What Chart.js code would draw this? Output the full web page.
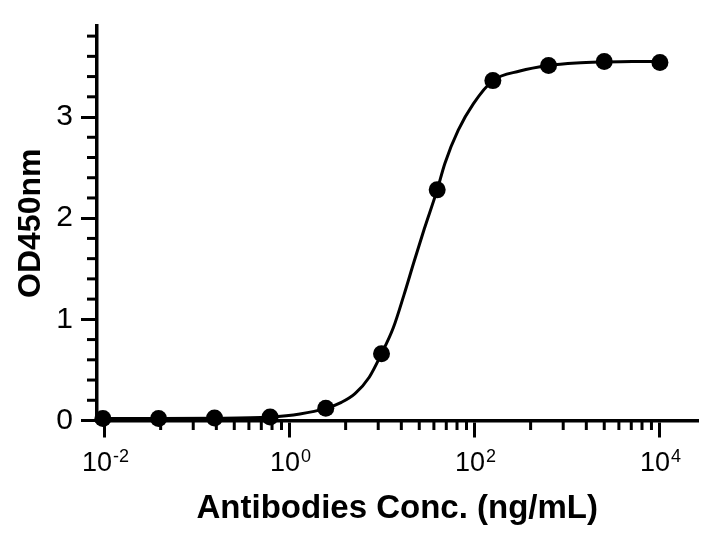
<!DOCTYPE html>
<html>
<head>
<meta charset="utf-8">
<script src="https://cdn.jsdelivr.net/npm/chart.js@4.4.1/dist/chart.umd.min.js"></script>
<style>
  html, body { margin: 0; padding: 0; background: #fff; }
  #wrap { width: 715px; height: 537px; position: relative; }
</style>
</head>
<body>
<div id="wrap"><canvas id="odChart"></canvas></div>
<script>
/* ---- data ---- */
const concValues = [0.0095, 0.038, 0.153, 0.61, 2.44, 9.77, 39.06, 156.25, 625, 2500, 10000];
const odValues   = [0.02, 0.02, 0.025, 0.035, 0.12, 0.66, 2.28, 3.36, 3.51, 3.55, 3.54];

// fitted curve
const fitX = [0.0095, 0.04, 0.15, 0.6, 1.28, 2.44, 3.6, 5.05, 7.2, 9.77, 13.1, 17.1, 21.9, 28.3, 39.06, 47.4, 66, 96, 156.25, 306, 625, 1250, 2500, 5000, 10000];
const fitY = [0.02, 0.02, 0.022, 0.035, 0.065, 0.12, 0.18, 0.266, 0.428, 0.66, 0.916, 1.242, 1.567, 1.893, 2.28, 2.544, 2.87, 3.13, 3.36, 3.455, 3.51, 3.535, 3.545, 3.55, 3.55];

const xMajorTicks = [0.01, 1, 100, 10000];
const xTickExponents = ['-2', '0', '2', '4'];
const xMinorTicks = [0.04, 0.09, 0.16, 0.25, 0.36, 0.49, 0.64, 0.81,
                     4, 9, 16, 25, 36, 49, 64, 81,
                     400, 900, 1600, 2500, 3600, 4900, 6400, 8100];
const yMajorTicks = [0, 1, 2, 3];
const yMinorTicks = [0.2, 0.4, 0.6, 0.8, 1.2, 1.4, 1.6, 1.8, 2.2, 2.4, 2.6, 2.8, 3.2, 3.4, 3.6, 3.8];

const FONT = "'Liberation Sans', Arial, sans-serif";
const INK = '#000';

// minor ticks + superscript x labels, placed through the scales
const axisExtras = {
  id: 'axisExtras',
  beforeDatasetsDraw(chart) {
    const { ctx, scales: { x, y } } = chart;
    ctx.save();
    ctx.strokeStyle = INK;
    ctx.lineWidth = 3;
    const minorLen = 9.5;
    xMinorTicks.forEach(v => {
      const px = x.getPixelForValue(v);
      ctx.beginPath();
      ctx.moveTo(px, x.top);
      ctx.lineTo(px, x.top + minorLen);
      ctx.stroke();
    });
    yMinorTicks.forEach(v => {
      const py = y.getPixelForValue(v);
      ctx.beginPath();
      ctx.moveTo(y.right, py);
      ctx.lineTo(y.right - minorLen, py);
      ctx.stroke();
    });
    ctx.restore();
  },
  afterDraw(chart) {
    const { ctx, scales: { x } } = chart;
    ctx.save();
    ctx.fillStyle = INK;
    ctx.textBaseline = 'alphabetic';
    ctx.textAlign = 'left';
    const baseFont = '27px ' + FONT;
    const supFont = '18px ' + FONT;
    xMajorTicks.forEach((v, i) => {
      const px = x.getPixelForValue(v);
      ctx.font = baseFont;
      const w1 = ctx.measureText('10').width;
      ctx.font = supFont;
      const w2 = ctx.measureText(xTickExponents[i]).width;
      const start = px - (w1 + w2) / 2;
      ctx.font = baseFont;
      ctx.fillText('10', start, x.top + 50);
      ctx.font = supFont;
      ctx.fillText(xTickExponents[i], start + w1 + 1, x.top + 41);
    });
    ctx.restore();
  }
};

new Chart(document.getElementById('odChart'), {
  type: 'scatter',
  data: {
    datasets: [
      {
        label: 'OD450nm',
        data: concValues.map((c, i) => ({ x: c, y: odValues[i] })),
        backgroundColor: INK,
        borderColor: INK,
        pointRadius: 8.5,
        pointBorderWidth: 0,
        showLine: false,
        clip: false
      },
      {
        label: 'Fit',
        data: fitX.map((c, i) => ({ x: c, y: fitY[i] })),
        showLine: true,
        borderColor: INK,
        borderWidth: 3,
        pointRadius: 0,
        cubicInterpolationMode: 'monotone',
        clip: false
      }
    ]
  },
  options: {
    responsive: true,
    maintainAspectRatio: false,
    animation: false,
    layout: { padding: { top: 20.5, right: 17, left: 0, bottom: 0 } },
    plugins: { legend: { display: false }, tooltip: { enabled: false } },
    scales: {
      x: {
        type: 'logarithmic',
        min: 0.0081,
        max: 25800,
        afterBuildTicks: s => { s.ticks = xMajorTicks.map(v => ({ value: v })); },
        afterFit: s => { s.height = 116.5; },
        border: { display: true, color: INK, width: 3.5 },
        grid: { drawOnChartArea: false, drawTicks: true, tickLength: 17, tickWidth: 3, tickColor: INK },
        ticks: { display: false },
        title: {
          display: true,
          text: 'Antibodies Conc. (ng/mL)',
          color: INK,
          font: { family: FONT, size: 33, weight: 'bold' },
          padding: { top: 0, bottom: 8.5 }
        }
      },
      y: {
        min: 0,
        max: 3.9,
        afterBuildTicks: s => { s.ticks = yMajorTicks.map(v => ({ value: v })); },
        afterFit: s => { s.width = 96.5; },
        border: { display: true, color: INK, width: 3.5 },
        grid: { drawOnChartArea: false, drawTicks: true, tickLength: 15.5, tickWidth: 3, tickColor: INK },
        ticks: {
          color: INK,
          padding: 8,
          font: { family: FONT, size: 30 },
          callback: v => String(v)
        },
        title: {
          display: true,
          text: 'OD450nm',
          color: INK,
          font: { family: FONT, size: 32, weight: 'bold' },
          padding: { top: 11.5, bottom: 0 }
        }
      }
    }
  },
  plugins: [axisExtras]
});
</script>
</body>
</html>
